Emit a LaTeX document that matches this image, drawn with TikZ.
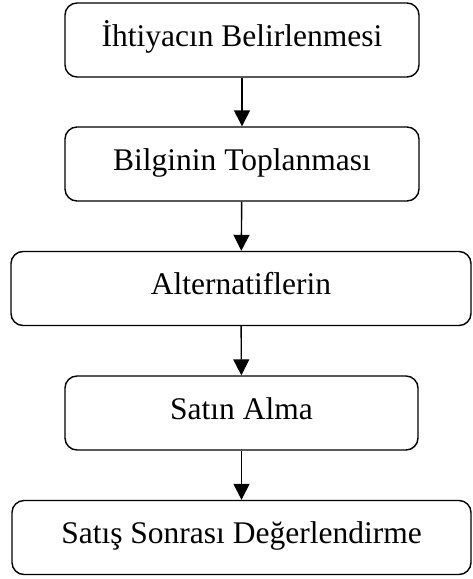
\documentclass[tikz,border=0pt]{standalone}
\usepackage{fontspec}
\setmainfont{Liberation Serif}
\usetikzlibrary{arrows.meta}
\begin{document}
\begin{tikzpicture}[x=1pt,y=-1pt,
  stage/.style={draw=black, line width=1.4pt, rounded corners=12pt,
    minimum width=#1, minimum height=74pt, inner sep=0pt,
    text height=22pt, text depth=10pt,
    font=\fontsize{31.5}{36}\selectfont},
  flow/.style={draw=black, line width=1.4pt,
    -{Triangle[width=16pt,length=16pt]}}]
  \useasboundingbox (0,0) rectangle (472,579);
  \node[stage=354pt] (s1) at (242,40)    {İhtiyacın Belirlenmesi};
  \node[stage=354pt] (s2) at (242,164)   {Bilginin Toplanması};
  \node[stage=460pt] (s3) at (241,288.5) {Alternatiflerin};
  \node[stage=353pt] (s4) at (241.5,413) {Satın Alma};
  \node[stage=459pt] (s5) at (241.5,537.5) {Satış Sonrası Değerlendirme};
  \draw[flow] (s1) -- (s2);
  \draw[flow] (s2) -- (s3);
  \draw[flow] (s3) -- (s4);
  \draw[flow] (s4) -- (s5);
\end{tikzpicture}
\end{document}
